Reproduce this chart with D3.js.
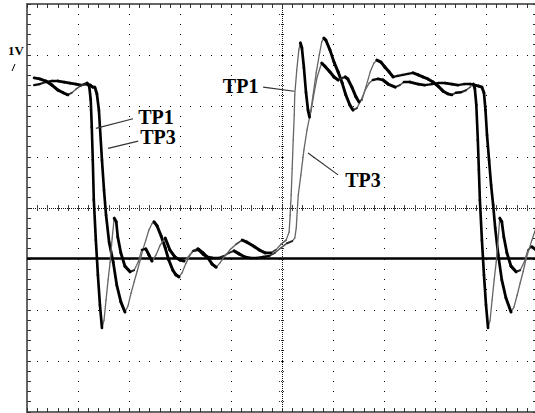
<!DOCTYPE html>
<html><head><meta charset="utf-8">
<script src="https://cdn.jsdelivr.net/npm/d3@7"></script>
<style>html,body{margin:0;padding:0;background:#fff;}svg{display:block;}</style>
</head><body>
<script>
// time in divisions, voltage in volts (1 V/div, 0 V reference line)
const tp1Time = [0.14,0.25,0.37,0.49,0.61,0.71,0.80,0.88,0.96,1.04,1.12,1.18,1.22,1.25,1.27,1.29,1.31,1.35,1.39,1.43,1.47,1.51,1.55,1.59,1.63,1.67,1.71,1.75,1.78,1.84,1.92,2.02,2.10,2.18,2.25,2.33,2.39,2.45,2.53,2.61,2.71,2.80,2.90,3.00,3.08,3.16,3.25,3.35,3.45,3.55,3.63,3.71,3.78,3.88,3.98,4.10,4.22,4.31,4.43,4.55,4.67,4.78,4.88,4.98,5.08,5.14,5.16,5.18,5.20,5.22,5.24,5.25,5.29,5.33,5.36,5.39,5.43,5.47,5.51,5.54,5.57,5.63,5.69,5.75,5.78,5.84,5.94,6.02,6.10,6.18,6.24,6.29,6.37,6.45,6.51,6.57,6.65,6.73,6.80,6.86,6.94,7.02,7.10,7.18,7.27,7.37,7.47,7.57,7.67,7.76,7.86,7.96,8.06,8.16,8.25,8.33,8.41,8.51,8.61,8.69,8.75,8.78,8.81,8.84,8.86,8.88,8.92,8.96,9.00,9.04,9.08,9.12,9.16,9.20,9.24,9.27,9.31,9.35,9.41,9.49,9.59,9.67,9.75,9.82,9.90,9.98];
const tp1Volt = [3.54,3.52,3.48,3.40,3.30,3.25,3.21,3.25,3.32,3.38,3.42,3.44,3.38,3.11,2.58,1.93,1.15,0.36,-0.32,-0.91,-1.36,-1.21,-0.81,-0.42,-0.07,0.40,0.79,0.72,0.42,0.11,-0.15,-0.26,-0.23,-0.07,0.17,0.19,0.07,-0.05,0.07,0.26,0.40,0.17,0.03,-0.03,-0.05,0.03,0.15,0.19,0.11,0.01,-0.11,-0.17,-0.09,0.05,0.17,0.28,0.36,0.32,0.25,0.17,0.11,0.11,0.17,0.28,0.36,0.52,0.85,1.25,1.77,2.32,2.81,3.21,3.70,4.09,4.23,4.13,3.74,3.26,2.91,2.77,2.89,3.25,3.56,3.75,3.83,3.77,3.66,3.56,3.50,3.54,3.56,3.52,3.36,3.17,3.07,3.11,3.38,3.66,3.83,3.89,3.85,3.75,3.66,3.56,3.58,3.60,3.62,3.64,3.60,3.56,3.52,3.46,3.38,3.28,3.23,3.21,3.25,3.26,3.30,3.36,3.42,3.34,3.01,2.32,1.74,1.15,0.36,-0.32,-0.91,-1.36,-1.21,-0.81,-0.42,-0.07,0.40,0.79,0.72,0.42,0.11,-0.15,-0.26,-0.23,-0.07,0.17,0.23,0.17];
const tp3Time = [0.14,0.25,0.37,0.49,0.61,0.73,0.84,0.96,1.06,1.16,1.24,1.29,1.33,1.37,1.41,1.43,1.47,1.51,1.55,1.61,1.69,1.76,1.84,1.92,1.98,2.04,2.10,2.16,2.22,2.27,2.33,2.39,2.45,2.49,2.55,2.63,2.71,2.78,2.86,2.92,2.98,3.04,3.12,3.20,3.27,3.37,3.45,3.53,3.63,3.75,3.86,3.96,4.06,4.16,4.27,4.39,4.51,4.63,4.75,4.86,4.98,5.10,5.20,5.25,5.28,5.30,5.32,5.37,5.43,5.49,5.55,5.61,5.67,5.73,5.78,5.82,5.86,5.94,6.02,6.10,6.18,6.25,6.33,6.39,6.47,6.55,6.63,6.71,6.78,6.88,6.98,7.08,7.22,7.31,7.39,7.51,7.67,7.80,7.94,8.06,8.20,8.33,8.45,8.57,8.69,8.78,8.86,8.92,8.96,8.99,9.02,9.06,9.10,9.14,9.18,9.24,9.31,9.39,9.49,9.55,9.61,9.67,9.73,9.78,9.84,9.90,9.98];
const tp3Volt = [3.40,3.42,3.46,3.48,3.48,3.46,3.44,3.42,3.40,3.42,3.40,3.36,3.36,3.23,2.91,2.58,1.93,1.34,0.85,0.32,-0.07,-0.52,-0.85,-1.05,-0.93,-0.68,-0.46,-0.25,-0.03,0.17,0.36,0.56,0.68,0.72,0.64,0.44,0.21,-0.03,-0.23,-0.32,-0.36,-0.28,-0.09,0.07,0.15,0.17,0.09,0.03,0.01,0.01,0.05,0.11,0.15,0.09,0.03,0.01,0.01,0.03,0.05,0.11,0.21,0.30,0.34,0.40,0.60,0.95,1.25,1.64,2.13,2.52,2.81,3.21,3.64,3.99,4.25,4.32,4.28,4.09,3.85,3.66,3.44,3.21,3.01,2.91,2.95,3.11,3.30,3.44,3.50,3.52,3.50,3.42,3.36,3.40,3.46,3.46,3.42,3.40,3.42,3.44,3.44,3.42,3.40,3.42,3.42,3.40,3.38,3.36,3.25,2.91,2.42,1.93,1.44,1.05,0.60,0.07,-0.42,-0.77,-1.05,-0.95,-0.72,-0.48,-0.25,-0.03,0.17,0.36,0.60];
const xDomain = [0, 10];
const yDomain = [-3, 5];
const labels = [
  {text: "TP1", t: 2.18, v: 2.63, lt: [1.35, 2.08], lv: [2.55, 2.74]},
  {text: "TP3", t: 2.22, v: 2.24, lt: [1.59, 2.18], lv: [2.16, 2.30]},
  {text: "TP1", t: 3.84, v: 3.24, lt: [4.63, 5.24], lv: [3.36, 3.28]},
  {text: "TP3", t: 6.24, v: 1.40, lt: [5.51, 6.10], lv: [2.07, 1.64]}
];
const scaleLabel = "1V";

const W = 535, H = 413;
const svg = d3.select("body").append("svg").attr("width", W).attr("height", H);
svg.append("rect").attr("width", W).attr("height", H).attr("fill", "#fff");

const x = d3.scaleLinear().domain(xDomain).range([27, 537]);
const y = d3.scaleLinear().domain(yDomain).range([411.5, 3.5]);

const grid = svg.append("g").attr("shape-rendering", "crispEdges");
const minorT = d3.range(0, 10.001, 0.2);
const minorV = d3.range(-3, 5.001, 0.2);
const majT = [1,2,3,4,6,7,8,9];
const majV = [-2,-1,2,3,4];

// dotted graticule
majT.forEach(t => {
  minorV.forEach(v => grid.append("rect").attr("x", Math.round(x(t))).attr("y", Math.round(y(v))).attr("width",1).attr("height",1).attr("fill","#000"));
});
majV.forEach(v => {
  minorT.forEach(t => grid.append("rect").attr("x", Math.round(x(t))).attr("y", Math.round(y(v))).attr("width",1).attr("height",1).attr("fill","#000"));
});
// center axes
grid.append("line").attr("x1", Math.round(x(5))+0.5).attr("x2", Math.round(x(5))+0.5).attr("y1", y(5)).attr("y2", y(-3))
  .attr("stroke", "#111").attr("stroke-dasharray", "1,1");
grid.append("line").attr("y1", Math.round(y(1))+0.5).attr("y2", Math.round(y(1))+0.5).attr("x1", x(0)).attr("x2", x(10))
  .attr("stroke", "#111").attr("stroke-dasharray", "1,1");
minorV.forEach(v => grid.append("line").attr("x1", x(5)-3).attr("x2", x(5)+3).attr("y1", Math.round(y(v))+0.5).attr("y2", Math.round(y(v))+0.5).attr("stroke","#333").attr("stroke-dasharray","1,1"));
minorT.forEach(t => grid.append("line").attr("y1", y(1)-3).attr("y2", y(1)+3).attr("x1", Math.round(x(t))+0.5).attr("x2", Math.round(x(t))+0.5).attr("stroke","#444"));

// frame with inward ticks
grid.append("rect").attr("x", x(0)).attr("y", y(5)).attr("width", x(10)-x(0)).attr("height", y(-3)-y(5))
  .attr("fill", "none").attr("stroke", "#666").attr("stroke-width", 2);
minorT.forEach(t => {
  grid.append("line").attr("x1", Math.round(x(t))+0.5).attr("x2", Math.round(x(t))+0.5).attr("y1", y(5)).attr("y2", y(5)+4).attr("stroke","#333");
  grid.append("line").attr("x1", Math.round(x(t))+0.5).attr("x2", Math.round(x(t))+0.5).attr("y1", y(-3)).attr("y2", y(-3)-4).attr("stroke","#333");
});
minorV.forEach(v => {
  grid.append("line").attr("y1", Math.round(y(v))+0.5).attr("y2", Math.round(y(v))+0.5).attr("x1", x(0)).attr("x2", x(0)+4).attr("stroke","#333");
  grid.append("line").attr("y1", Math.round(y(v))+0.5).attr("y2", Math.round(y(v))+0.5).attr("x1", x(10)).attr("x2", x(10)-4).attr("stroke","#333");
});

// 0 V reference line
svg.append("line").attr("x1", x(0)).attr("x2", x(10)).attr("y1", y(0)).attr("y2", y(0))
  .attr("stroke", "#000").attr("stroke-width", 2.6);

// traces (pen that is broad on falling strokes, thin on rising ones)
function drawTrace(ts, vs) {
  const pts = ts.map((t, i) => [x(t), y(vs[i])]);
  const segs = d3.pairs(pts).map(([a, b]) => {
    const dx = b[0]-a[0], dy = b[1]-a[1], L = Math.hypot(dx, dy) || 1;
    const f = Math.max(0, (dx + dy) / L / Math.SQRT2);
    return {a, b, f};
  }).sort((p, q) => p.f - q.f);
  svg.append("g").selectAll("line").data(segs).join("line")
    .attr("x1", d => d.a[0]).attr("y1", d => d.a[1]).attr("x2", d => d.b[0]).attr("y2", d => d.b[1])
    .attr("stroke-width", d => 1.3 + 1.8 * d.f)
    .attr("stroke", d => d3.interpolateRgb("#666", "#000")(Math.min(1, d.f * 1.6)))
    .attr("stroke-linecap", "round");
}
drawTrace(tp3Time, tp3Volt);
drawTrace(tp1Time, tp1Volt);

// labels with leader lines
labels.forEach(l => {
  svg.append("line").attr("x1", x(l.lt[0])).attr("y1", y(l.lv[0])).attr("x2", x(l.lt[1])).attr("y2", y(l.lv[1]))
    .attr("stroke", "#333").attr("stroke-width", 1.2);
  svg.append("text").attr("x", x(l.t)).attr("y", y(l.v)).text(l.text)
    .attr("font-family", "'Liberation Serif','Times New Roman',serif").attr("font-weight", "bold")
    .attr("font-size", 20).attr("fill", "#000");
});

// channel scale marker
svg.append("text").attr("x", 8).attr("y", 55).text(scaleLabel)
  .attr("font-family", "'Liberation Serif','Times New Roman',serif").attr("font-weight", "bold")
  .attr("font-size", 13).attr("fill", "#000");
svg.append("line").attr("x1", 12).attr("y1", 71).attr("x2", 15).attr("y2", 64).attr("stroke", "#000").attr("stroke-width", 1);
</script>
</body></html>
